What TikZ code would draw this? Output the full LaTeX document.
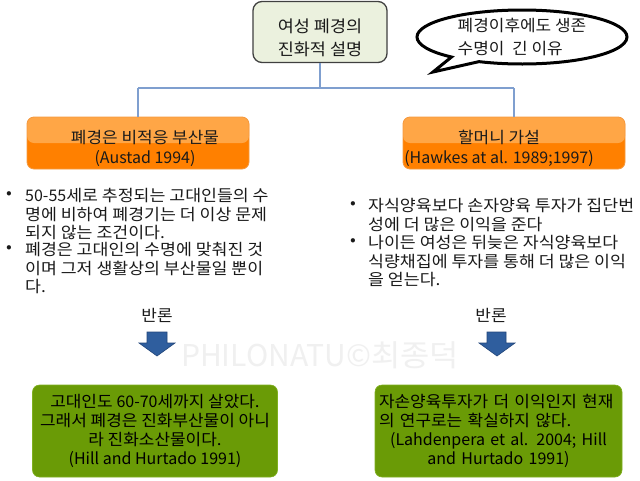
\documentclass[tikz,border=0pt]{standalone}
\usepackage{fontspec}
\setmainfont{Noto Sans CJK KR}[FakeStretch=1.06]
\newfontfamily\bulletf{Noto Sans CJK KR}[FakeStretch=1.08]
\newfontfamily\latf{Noto Sans CJK KR}
\newcommand{\lat}[1]{{\latf #1}}
\usetikzlibrary{shapes.callouts,calc}
\definecolor{lineblue}{HTML}{7F9FCF}
\definecolor{orlight}{HTML}{FFA646}
\definecolor{ordark}{HTML}{FF8000}
\definecolor{orborder}{HTML}{F59A40}
\definecolor{grn}{HTML}{6A9B06}
\definecolor{grnborder}{HTML}{80B020}
\definecolor{topfill}{HTML}{EBF1DE}
\definecolor{arrblue}{HTML}{2F5E9E}
\definecolor{arredge}{HTML}{22467A}
\definecolor{txt}{HTML}{1A1A1A}
\tikzset{
  body/.style={font=\bulletf\fontsize{16}{18.4}\selectfont, text=txt, inner sep=0pt, align=left, anchor=north west},
  bulletdot/.style={font=\fontsize{16}{18}\selectfont, text=txt, inner sep=0pt},
  orbox/.style={draw=orborder, line width=0.8pt, fill=ordark, rounded corners=7pt,
    minimum width=222pt, minimum height=52pt,
    path picture={\fill[orlight] (path picture bounding box.north west) rectangle (path picture bounding box.east);}},
  orlabel/.style={font=\fontsize{16}{20}\selectfont, text=txt, align=center, inner sep=0pt},
  grbox/.style={draw=grnborder, line width=0.6pt, fill=grn, rounded corners=7pt,
    minimum height=92pt, font=\fontsize{16}{19}\selectfont, text=black},
  conn/.style={draw=lineblue, line width=1.2pt},
  blockarrow/.style={fill=arrblue, draw=arredge, line width=0.6pt},
}
\begin{document}
\begin{tikzpicture}[x=1pt,y=-1pt]
\useasboundingbox (0,0) rectangle (640,480);
\fill[white] (0,0) rectangle (640,480);

% watermark
\node[font=\fontsize{30}{32}\selectfont, text=black!6, inner sep=0pt] (wm) at (320,355) {\lat{PHILONATU©}최종덕};

% top box
\node[draw=black!75, line width=1.3pt, fill=topfill, rounded corners=9pt,
      minimum width=134pt, minimum height=61pt] (top) at (320,32) {};
\node[font=\fontsize{16.5}{23}\selectfont, text=txt, align=center, inner sep=0pt] (toptext) at (320,38) {여성 폐경의\\진화적 설명};

% speech bubble
\node[ellipse callout, draw=black, line width=3pt, fill=white,
      minimum width=210pt, minimum height=54pt,
      callout absolute pointer={(433,72)}, callout pointer arc=18,
      font=\fontsize{16}{23}\selectfont, text=txt, align=left, inner sep=0pt] (bubble) at (522,37)
      {폐경이후에도 생존\\수명이\ \ 긴 이유};

% orange boxes
\node[orbox] (lor) at (138,143) {};
\node[orlabel] (lortext) at (145,148) {폐경은 비적응 부산물\\\lat{(Austad 1994)}};
\node[orbox] (ror) at (514,143) {};
\node[orlabel] (rortext) at (499,148) {할머니 가설\\\lat{(Hawkes at al. 1989;1997)}};

% connectors
\coordinate (hl) at (138,88);
\coordinate (hm) at (320,88);
\coordinate (hr) at (514,88);
\draw[conn] (top.south) -- (hm);
\draw[conn] (hl) -- (hr);
\draw[conn] (hl) -- (lor.north);
\draw[conn] (hr) -- (ror.north);

% left bullets
\node[bulletdot] (lb1) at (9,195) {•};
\node[body] (lt1) at (25,188.5) {\lat{50-55}세로 추정되는 고대인들의 수\\명에 비하여 폐경기는 더 이상 문제\\되지 않는 조건이다.};
\node[bulletdot] (lb2) at (9,249) {•};
\node[body] (lt2) at (25,242.5) {폐경은 고대인의 수명에 맞춰진 것\\이며 그저 생활상의 부산물일 뿐이\\다.};

% right bullets
\node[bulletdot] (rb1) at (353,205) {•};
\node[body] (rt1) at (368,198.5) {자식양육보다 손자양육 투자가 집단번\\성에 더 많은 이익을 준다};
\node[bulletdot] (rb2) at (353,242) {•};
\node[body] (rt2) at (368,235.5) {나이든 여성은 뒤늦은 자식양육보다\\식량채집에 투자를 통해 더 많은 이익\\을 얻는다.};

% rebuttal labels
\node[font=\fontsize{16}{18}\selectfont, text=txt, inner sep=0pt] (lban) at (157,315) {반론};
\node[font=\fontsize{16}{18}\selectfont, text=txt, inner sep=0pt] (rban) at (491,315) {반론};

% block arrows
\draw[blockarrow] (147,332) -- (167,332) -- (167,343) -- (175,343) -- (157,356) -- (139,343) -- (147,343) -- cycle;
\draw[blockarrow] (487,332) -- (506,332) -- (506,343) -- (515,343) -- (497,356) -- (479,343) -- (487,343) -- cycle;

% green boxes
\node[grbox, minimum width=245pt, align=center] (lgr) at (155,431)
  {고대인도 \lat{60-70}세까지 살았다.\\그래서 폐경은 진화부산물이 아니\\라 진화소산물이다.\\\lat{(Hill and Hurtado 1991)}};
\node[grbox, minimum width=247pt, text width=239pt, inner xsep=4pt] (rgr) at (498.5,431)
  {{\raggedright 자손양육투자가 더 이익인지 현재\\의 연구로는 확실하지 않다.\par}
   {\centering\latf (Lahdenpera et al. 2004; Hill\\and Hurtado 1991)\par}};
\end{tikzpicture}
\end{document}
